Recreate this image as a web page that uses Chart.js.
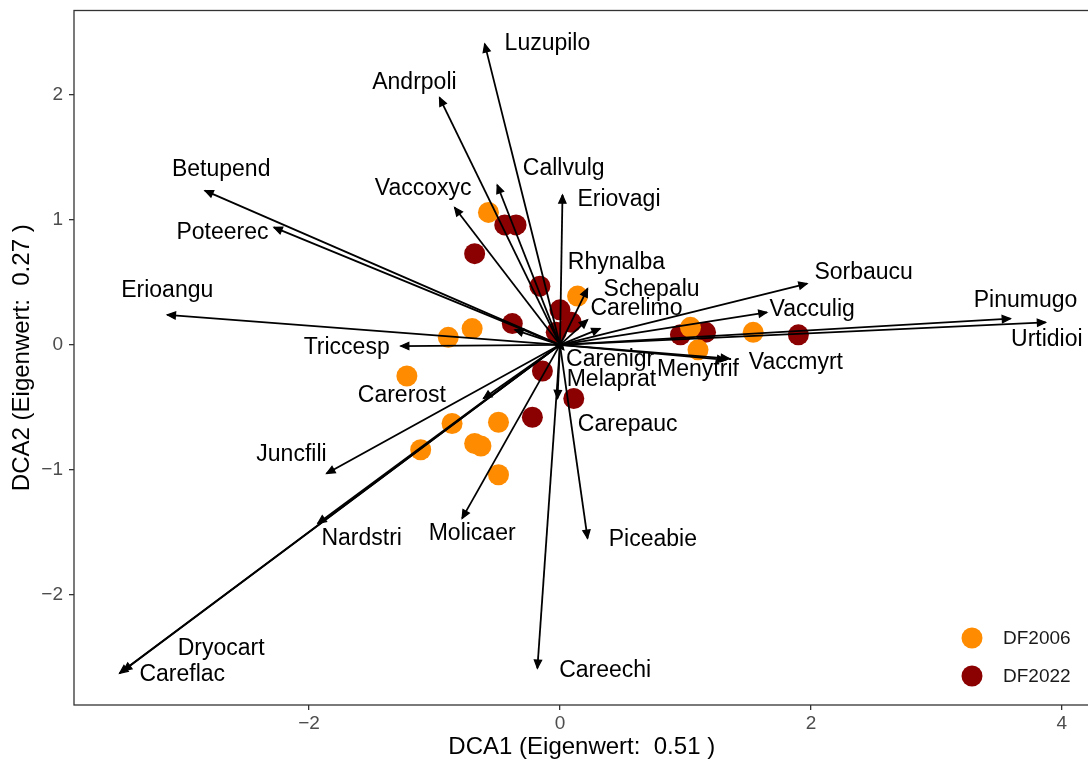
<!DOCTYPE html>
<html>
<head>
<meta charset="utf-8">
<title>DCA ordination</title>
<script src="https://cdn.jsdelivr.net/npm/chart.js@4.4.0/dist/chart.umd.min.js"></script>
<style>
  html, body { margin: 0; padding: 0; background: #ffffff; overflow: hidden; }
  #wrap { position: relative; width: 1100px; height: 767px; }
</style>
</head>
<body>
<div id="wrap"><canvas id="c" width="1100" height="767"></canvas></div>
<script>
// Species vectors (DCA1 / DCA2 scores of the arrow tips)
const speciesNames = ["Luzupilo","Andrpoli","Callvulg","Eriovagi","Vaccoxyc","Betupend","Poteerec","Erioangu","Triccesp","Carerost","Juncfili","Nardstri","Dryocart","Careflac","Molicaer","Careechi","Piceabie","Carepauc","Melaprat","Carenigr","Menytrif","Vaccmyrt","Urtidioi","Pinumugo","Vacculig","Sorbaucu","Carelimo","Schepalu","Rhynalba"];
const arrowX = [-0.60,-0.96,-0.50, 0.02,-0.84,-2.83,-2.28,-3.13,-1.27,-0.61,-1.86,-1.93,-3.48,-3.51,-0.78,-0.18, 0.22,-0.36,-0.02, 0.03, 1.32, 1.35, 3.87, 3.59, 1.65, 1.97, 0.22, 0.22, 0.32];
const arrowY = [ 2.41, 1.98, 1.28, 1.20, 1.10, 1.235,0.94, 0.24,-0.01,-0.43,-1.03,-1.43,-2.61,-2.63,-1.39,-2.59,-1.55, 0.12,-0.43,-0.04,-0.12,-0.11, 0.18, 0.21, 0.26, 0.49, 0.20, 0.45, 0.13];

// Where each species name is written
const labelX = [-0.10,-1.16, 0.03, 0.47,-1.09,-2.70,-2.69,-3.13,-1.70,-1.26,-2.14,-1.58,-2.70,-3.01,-0.70, 0.36, 0.74, 0.54, 0.41, 0.40, 1.10, 1.88, 3.88, 3.71, 2.01, 2.42, 0.61, 0.73, 0.45];
const labelY = [ 2.41, 2.10, 1.41, 1.16, 1.25, 1.40, 0.90, 0.43,-0.02,-0.41,-0.88,-1.55,-2.43,-2.64,-1.51,-2.61,-1.56,-0.64,-0.28,-0.12,-0.20,-0.14, 0.04, 0.35, 0.28, 0.58, 0.29, 0.44, 0.66];

// Site scores per survey year
const df2006X = [-0.57, 0.14,-0.89,-0.70, 1.04, 1.10, 1.54,-1.22,-0.86,-0.49,-0.68,-0.63,-1.11,-0.49];
const df2006Y = [ 1.06, 0.39, 0.06, 0.13, 0.14,-0.04, 0.10,-0.25,-0.63,-0.62,-0.79,-0.81,-0.84,-1.04];
const df2022X = [-0.44,-0.35,-0.68,-0.16, 0.00, 0.09,-0.03,-0.38, 0.96, 1.16, 1.90,-0.14, 0.11,-0.22];
const df2022Y = [ 0.96, 0.96, 0.73, 0.47, 0.28, 0.18, 0.10, 0.17, 0.08, 0.10, 0.08,-0.21,-0.43,-0.58];

const groupNames = ["DF2006", "DF2022"];
const groupColors = ["#FF8C00", "#8B0000"];

const xTicks = [-2, 0, 2, 4];
const yTicks = [-2, -1, 0, 1, 2];
const xRange = [-3.873, 4.22];
const yRange = [-2.884, 2.677];

const FONT = "'Liberation Sans', Arial, 'DejaVu Sans', sans-serif";
const fmt = v => (v < 0 ? "\u2212" + Math.abs(v) : String(v));

// Segments from the origin to each species tip
const arrowSets = speciesNames.map((n, i) => ({
  label: n,
  type: "line",
  data: [{ x: 0, y: 0 }, { x: arrowX[i], y: arrowY[i] }],
  borderColor: "#000000",
  borderWidth: 1.8,
  pointRadius: 0,
  fill: false,
  tension: 0,
  order: 1
}));

const siteSets = [
  { label: groupNames[0], data: df2006X.map((x, i) => ({ x, y: df2006Y[i] })) },
  { label: groupNames[1], data: df2022X.map((x, i) => ({ x, y: df2022Y[i] })) }
].map((d, k) => Object.assign(d, {
  type: "scatter",
  backgroundColor: groupColors[k],
  borderWidth: 0,
  pointRadius: 10.5,
  pointHoverRadius: 10.5,
  order: 2
}));

// Panel border, arrowheads, species names and the key
const overlay = {
  id: "overlay",
  afterDatasetsDraw(chart) {
    const { ctx, chartArea: a, scales: { x, y } } = chart;
    ctx.save();
    // arrowheads
    ctx.fillStyle = "#000000";
    ctx.strokeStyle = "#000000";
    ctx.lineWidth = 1.2;
    for (let i = 0; i < speciesNames.length; i++) {
      const x0 = x.getPixelForValue(0), y0 = y.getPixelForValue(0);
      const x1 = x.getPixelForValue(arrowX[i]), y1 = y.getPixelForValue(arrowY[i]);
      const ang = Math.atan2(y1 - y0, x1 - x0);
      const L = 9, w = 0.42;
      ctx.beginPath();
      ctx.moveTo(x1, y1);
      ctx.lineTo(x1 - L * Math.cos(ang - w), y1 - L * Math.sin(ang - w));
      ctx.lineTo(x1 - L * Math.cos(ang + w), y1 - L * Math.sin(ang + w));
      ctx.closePath();
      ctx.fill();
      ctx.stroke();
    }
    // species names
    ctx.font = "23px " + FONT;
    ctx.textAlign = "center";
    ctx.textBaseline = "middle";
    ctx.fillStyle = "#000000";
    for (let i = 0; i < speciesNames.length; i++) {
      ctx.fillText(speciesNames[i], x.getPixelForValue(labelX[i]), y.getPixelForValue(labelY[i]));
    }
    // key
    ctx.font = "19px " + FONT;
    ctx.textAlign = "left";
    for (let k = 0; k < groupNames.length; k++) {
      const cy = a.bottom - 67 + k * 38;
      ctx.beginPath();
      ctx.arc(972, cy, 10.5, 0, Math.PI * 2);
      ctx.fillStyle = groupColors[k];
      ctx.fill();
      ctx.fillStyle = "#1a1a1a";
      ctx.fillText(groupNames[k], 1003, cy + 1);
    }
    // panel border
    ctx.strokeStyle = "#333333";
    ctx.lineWidth = 1.3;
    ctx.strokeRect(a.left, a.top, a.right - a.left, a.bottom - a.top);
    ctx.restore();
  }
};

new Chart(document.getElementById("c"), {
  data: { datasets: [...siteSets, ...arrowSets] },
  options: {
    responsive: false,
    animation: false,
    devicePixelRatio: 1,
    layout: { padding: { top: 5, right: 8, left: 0, bottom: 0 } },
    plugins: { legend: { display: false }, tooltip: { enabled: false } },
    scales: {
      x: {
        type: "linear",
        position: "bottom",
        min: xRange[0],
        max: xRange[1],
        afterBuildTicks: s => { s.ticks = xTicks.map(v => ({ value: v })); },
        afterFit: s => { s.height = 62; s.paddingLeft = 0; s.paddingRight = 0; },
        grid: { display: true, drawOnChartArea: false, drawTicks: true, tickLength: 5, color: "#333333", lineWidth: 1.3 },
        border: { display: false },
        ticks: { color: "#4d4d4d", font: { size: 19, family: FONT }, padding: 2, maxRotation: 0, callback: fmt },
        title: { display: true, text: "DCA1 (Eigenwert:  0.51 )", color: "#000000", font: { size: 24, family: FONT }, padding: { top: 0, bottom: 5 } }
      },
      y: {
        type: "linear",
        position: "left",
        min: yRange[0],
        max: yRange[1],
        afterBuildTicks: s => { s.ticks = yTicks.map(v => ({ value: v })); },
        afterFit: s => { s.width = 74; s.paddingTop = 0; s.paddingBottom = 0; },
        grid: { display: true, drawOnChartArea: false, drawTicks: true, tickLength: 5, color: "#333333", lineWidth: 1.3 },
        border: { display: false },
        ticks: { color: "#4d4d4d", font: { size: 19, family: FONT }, padding: 6, callback: fmt },
        title: { display: true, text: "DCA2 (Eigenwert:  0.27 )", color: "#000000", font: { size: 24, family: FONT }, padding: { top: 8, bottom: 0 } }
      }
    }
  },
  plugins: [overlay]
});
</script>
</body>
</html>
